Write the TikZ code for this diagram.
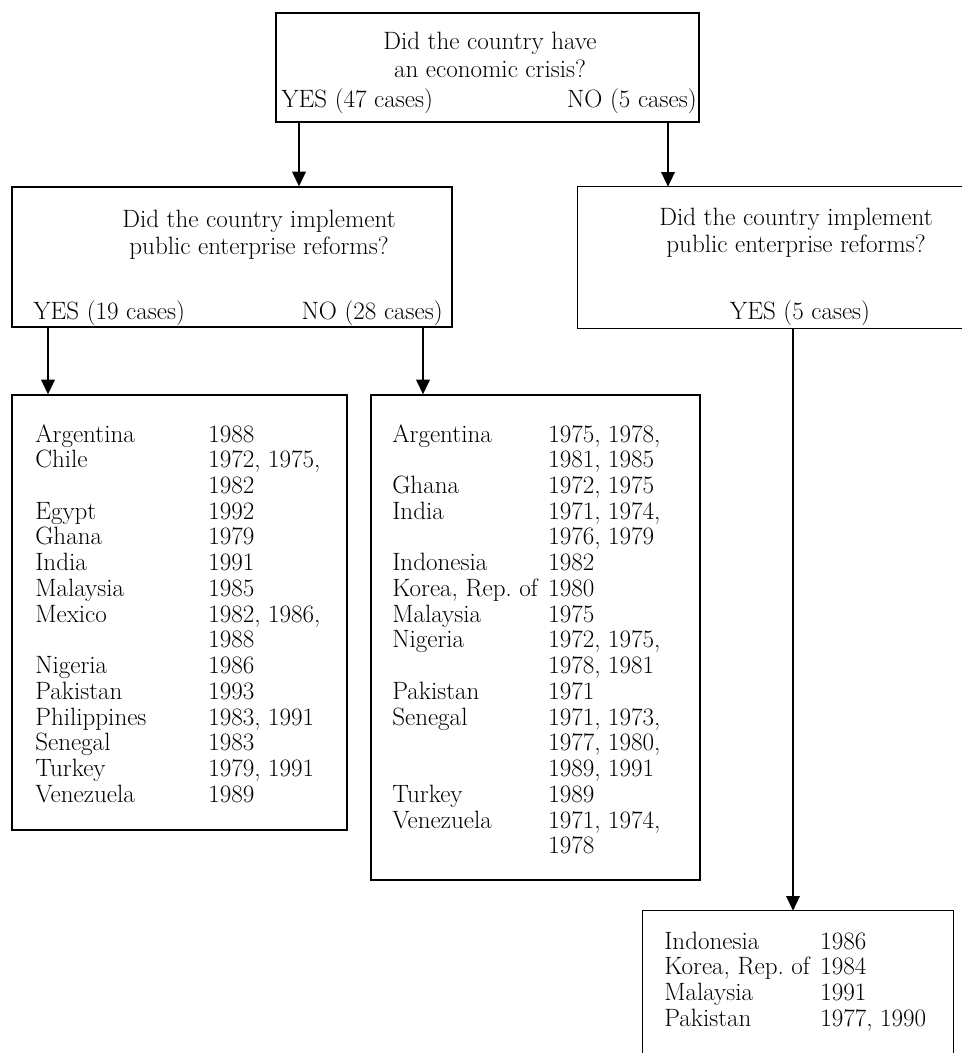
\documentclass[tikz,border=0pt]{standalone}
\usetikzlibrary{arrows.meta,fit}
\newcommand\ft{\fontsize{18.8}{19.3}\selectfont}
\begin{document}
\begin{tikzpicture}[x=0.75pt,y=-0.75pt,
  box/.style={draw,line width=0.9pt,inner sep=0pt},
  frame/.style={inner sep=0pt},
  edge/.style={line width=0.9pt},
  arr/.style={line width=1.7pt,-{Triangle[width=10pt,length=11pt]}},
  txt/.style={inner sep=0pt,font=\ft}]
\useasboundingbox (0,0) rectangle (962,1053);
% boxes
\node[box,fit={(276,13)(699,122)}] (q1) {};
\node[box,fit={(12,187)(452,327)}] (q2l) {};
\node[frame,fit={(578,187)(962,328)}] (q2r) {};
\draw[edge] (q2r.north east) -- (q2r.north west) -- (q2r.south west) -- (q2r.south east);
\node[box,fit={(12,395)(347,830)}] (la) {};
\node[box,fit={(371,395)(700,880)}] (lb) {};
\node[frame,fit={(643,911)(953,1053)}] (lc) {};
\draw[edge] (lc.south west) -- (lc.north west) -- (lc.north east) -- (lc.south east);
% top question
\node[txt,anchor=base] (t1) at (490,49) {Did the country have};
\node[txt,anchor=base] (t2) at (490,77) {an economic crisis?};
\node[txt,anchor=base west] (t3) at (281,107) {YES (47 cases)};
\node[txt,anchor=base east] (t4) at (697,107) {NO (5 cases)};
% second level left
\node[txt,anchor=base] (u1) at (259,227) {Did the country implement};
\node[txt,anchor=base] (u2) at (259,254) {public enterprise reforms?};
\node[txt,anchor=base west] (u3) at (33,319) {YES (19 cases)};
\node[txt,anchor=base east] (u4) at (443,319) {NO (28 cases)};
% second level right
\node[txt,anchor=base] (v1) at (796,225) {Did the country implement};
\node[txt,anchor=base] (v2) at (796,252) {public enterprise reforms?};
\node[txt,anchor=base] (v3) at (800,319) {YES (5 cases)};
% lists
\node[txt,anchor=base west] (la-t) at (35,442) {\begin{tabular}[t]{@{}p{129.75pt}@{}l@{}}
Argentina & 1988\\
Chile & 1972, 1975,\\
 & 1982\\
Egypt & 1992\\
Ghana & 1979\\
India & 1991\\
Malaysia & 1985\\
Mexico & 1982, 1986,\\
 & 1988\\
Nigeria & 1986\\
Pakistan & 1993\\
Philippines & 1983, 1991\\
Senegal & 1983\\
Turkey & 1979, 1991\\
Venezuela & 1989
\end{tabular}};
\node[txt,anchor=base west] (lb-t) at (392,442) {\begin{tabular}[t]{@{}p{117pt}@{}l@{}}
Argentina & 1975, 1978,\\
 & 1981, 1985\\
Ghana & 1972, 1975\\
India & 1971, 1974,\\
 & 1976, 1979\\
Indonesia & 1982\\
Korea, Rep.\ of & 1980\\
Malaysia & 1975\\
Nigeria & 1972, 1975,\\
 & 1978, 1981\\
Pakistan & 1971\\
Senegal & 1971, 1973,\\
 & 1977, 1980,\\
 & 1989, 1991\\
Turkey & 1989\\
Venezuela & 1971, 1974,\\
 & 1978
\end{tabular}};
\node[txt,anchor=base west] (lc-t) at (664,949) {\begin{tabular}[t]{@{}p{117pt}@{}l@{}}
Indonesia & 1986\\
Korea, Rep.\ of & 1984\\
Malaysia & 1991\\
Pakistan & 1977, 1990
\end{tabular}};
% arrows
\draw[arr] (299,0 |- q1.south) -- (299,0 |- q2l.north);
\draw[arr] (668,0 |- q1.south) -- (668,0 |- q2r.north);
\draw[arr] (48,0 |- q2l.south) -- (48,0 |- la.north);
\draw[arr] (423,0 |- q2l.south) -- (423,0 |- lb.north);
\draw[arr] (793,0 |- q2r.south) -- (793,0 |- lc.north);
\end{tikzpicture}
\end{document}
